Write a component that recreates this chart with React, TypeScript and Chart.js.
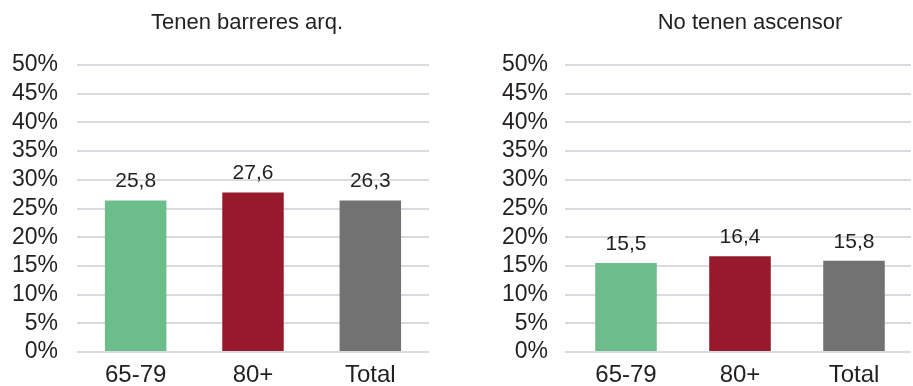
import React, { useEffect, useRef } from "react";
import { Chart, registerables } from "chart.js";

Chart.register(...registerables);

const categories = ["65-79", "80+", "Total"];
const barrierValues = [26.4, 27.8, 26.4];
const barrierLabels = ["25,8", "27,6", "26,3"];
const liftValues = [15.5, 16.7, 15.9];
const liftLabels = ["15,5", "16,4", "15,8"];
const barColors = ["#6dbd8b", "#961a2b", "#727273"];
const yTickValues = [0, 5, 10, 15, 20, 25, 30, 35, 40, 45, 50];
const yTickLabels = ["0%", "5%", "10%", "15%", "20%", "25%", "30%", "35%", "40%", "45%", "50%"];
const titles = ["Tenen barreres arq.", "No tenen ascensor"];

const FONT = "'Liberation Sans', Arial, Helvetica, sans-serif";
const TEXT = "#231f20";
const GRID = "#d8dbdf";

type PanelProps = {
  title: string;
  values: number[];
  labels: string[];
  width: number;
  yWidth: number;
  tickLen: number;
  tickPad: number;
  padRight: number;
  catPct: number;
  titleOffset: number;
};

function Panel(p: PanelProps) {
  const ref = useRef<HTMLCanvasElement | null>(null);
  useEffect(() => {
    if (!ref.current) return;
    const labelPlugin = {
      id: "valueLabels",
      afterDatasetsDraw(chart: any) {
        const ctx = chart.ctx;
        const meta = chart.getDatasetMeta(0);
        ctx.save();
        ctx.font = `21px ${FONT}`;
        ctx.fillStyle = TEXT;
        ctx.textAlign = "center";
        ctx.textBaseline = "middle";
        meta.data.forEach((el: any, i: number) => {
          ctx.fillText(p.labels[i], el.x, el.y - 19);
        });
        ctx.restore();
      },
    };
    const titlePlugin = {
      id: "panelTitle",
      afterDraw(chart: any) {
        const ctx = chart.ctx;
        const a = chart.chartArea;
        ctx.save();
        ctx.font = `22px ${FONT}`;
        ctx.fillStyle = TEXT;
        ctx.textAlign = "center";
        ctx.textBaseline = "middle";
        ctx.fillText(p.title, (a.left + a.right) / 2 + p.titleOffset, 23);
        ctx.restore();
      },
    };
    const chart = new Chart(ref.current, {
      type: "bar",
      data: {
        labels: categories,
        datasets: [
          {
            data: p.values,
            backgroundColor: barColors,
            borderWidth: 0,
            barPercentage: 1,
            categoryPercentage: p.catPct,
          },
        ],
      },
      options: {
        responsive: false,
        animation: false,
        devicePixelRatio: 1,
        layout: { padding: { top: 65, right: p.padRight, left: 0, bottom: 0 } },
        plugins: {
          legend: { display: false },
          tooltip: { enabled: false },
          title: { display: false },
        },
        scales: {
          x: {
            grid: { display: false },
            border: { display: false },
            ticks: {
              font: { family: FONT, size: 24, lineHeight: 1 },
              color: TEXT,
              padding: 3,
              maxRotation: 0,
              autoSkip: false,
            },
            afterFit: (s: any) => {
              s.height = 34;
            },
          },
          y: {
            min: 0,
            max: 50,
            afterBuildTicks: (s: any) => {
              s.ticks = yTickValues.map((v) => ({ value: v }));
            },
            ticks: {
              autoSkip: false,
              callback: (v: any) => yTickLabels[yTickValues.indexOf(Number(v))],
              font: { family: FONT, size: 23 },
              color: TEXT,
              padding: p.tickPad,
            },
            grid: {
              color: GRID,
              lineWidth: 2,
              drawTicks: p.tickLen > 0,
              tickLength: p.tickLen,
            },
            border: { display: false },
            afterFit: (s: any) => {
              s.width = p.yWidth;
            },
          },
        },
      },
      plugins: [labelPlugin, titlePlugin],
    } as any);
    return () => chart.destroy();
  }, []);
  return (
    <canvas
      ref={ref}
      width={p.width}
      height={386}
      style={{ width: p.width, height: 386, display: "block" }}
    />
  );
}

export default function App() {
  return (
    <div
      style={{
        position: "absolute",
        left: 0,
        top: 0,
        width: 913,
        height: 386,
        display: "flex",
        background: "#ffffff",
      }}
    >
      <Panel
        title={titles[0]}
        values={barrierValues}
        labels={barrierLabels}
        width={456}
        yWidth={77}
        tickLen={0}
        tickPad={19}
        padRight={27}
        catPct={0.524}
        titleOffset={-6}
      />
      <Panel
        title={titles[1]}
        values={liftValues}
        labels={liftLabels}
        width={457}
        yWidth={113}
        tickLen={4}
        tickPad={17}
        padRight={2}
        catPct={0.54}
        titleOffset={10}
      />
    </div>
  );
}
